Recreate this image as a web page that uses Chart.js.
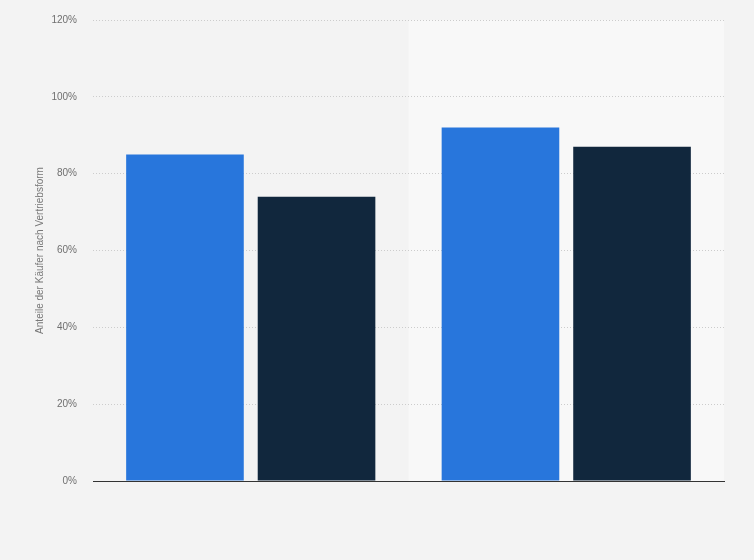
<!DOCTYPE html>
<html>
<head>
<meta charset="utf-8">
<script src="https://cdn.jsdelivr.net/npm/chart.js@4"></script>
<style>
    html, body { margin: 0; padding: 0; background: #f3f3f3; }
    #wrap { width: 754px; height: 560px; }
</style>
</head>
<body>
<div id="wrap"><canvas id="chart" width="754" height="560"></canvas></div>
<script>
// Dati
const categories = ['', ''];
const seriesNames = ['Serie 1', 'Serie 2'];
const series1 = [85, 92];
const series2 = [74, 87];
const yTicks = [0, 20, 40, 60, 80, 100, 120];
const yTitle = 'Anteile der Käufer nach Vertriebsform';

// Fascia chiara dietro la seconda categoria (sotto la griglia)
const bandPlugin = {
    id: 'band',
    beforeDraw(chart) {
        const x = chart.scales.x;
        const area = chart.chartArea;
        const half = (x.getPixelForValue(1) - x.getPixelForValue(0)) / 2;
        const left = x.getPixelForValue(1) - half;
        const ctx = chart.ctx;
        ctx.save();
        ctx.fillStyle = '#f8f8f8';
        ctx.fillRect(left, area.top, area.right - left, area.bottom - area.top);
        ctx.restore();
    }
};

new Chart(document.getElementById('chart').getContext('2d'), {
    type: 'bar',
    data: {
        labels: categories,
        datasets: [
            { label: seriesNames[0], data: series1, backgroundColor: '#2876dc' },
            { label: seriesNames[1], data: series2, backgroundColor: '#11273d' }
        ]
    },
    options: {
        responsive: false,
        animation: false,
        categoryPercentage: 0.834,
        barPercentage: 0.894,
        layout: { padding: { top: 20, right: 30, left: 0, bottom: 0 } },
        plugins: {
            legend: { display: false },
            tooltip: { enabled: false }
        },
        scales: {
            x: {
                grid: { display: false },
                ticks: { display: false },
                border: { display: true, color: '#333333', width: 1 },
                afterFit(scale) { scale.height = 79; }
            },
            y: {
                min: 0,
                max: 120,
                afterBuildTicks(scale) { scale.ticks = yTicks.map(v => ({ value: v })); },
                ticks: {
                    padding: 16,
                    color: '#6f6f6f',
                    font: { family: 'Arial, Liberation Sans, sans-serif', size: 10 },
                    callback: v => v + '%'
                },
                grid: { color: '#cccccc', drawTicks: false },
                border: { display: false, dash: [1, 2] },
                title: {
                    display: true,
                    text: yTitle,
                    color: '#777777',
                    font: { family: 'Arial, Liberation Sans, sans-serif', size: 10 },
                    padding: { top: 34, bottom: 0 }
                },
                afterFit(scale) {
                    scale.width = 93;
                    scale.paddingTop = 0;
                    scale.paddingBottom = 0;
                }
            }
        }
    },
    plugins: [bandPlugin]
});
</script>
</body>
</html>
